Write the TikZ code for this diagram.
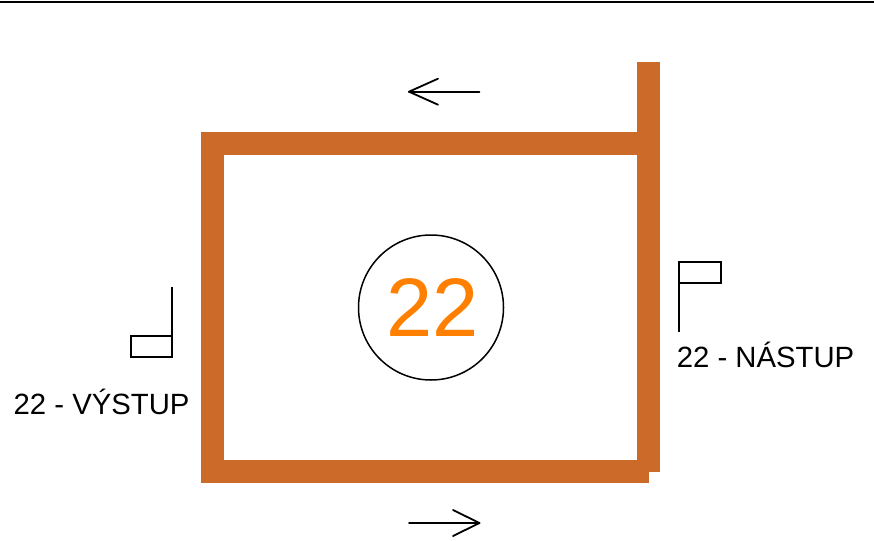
\documentclass[tikz,border=0pt]{standalone}
\usepackage{fontspec}
\setmainfont{Liberation Sans}
\definecolor{trackcol}{HTML}{CC6A29}
\definecolor{numcol}{HTML}{FF8000}
\tikzset{
  x=1pt,y=-1pt,
  track/.style={fill=trackcol,draw=none},
  thinline/.style={draw=black,line width=1.7pt},
  flagbox/.style={thinline,line join=miter},
  lbl/.style={inner sep=0pt,outer sep=0pt,anchor=base west,font=\fontsize{29.3}{32}\selectfont},
  openarrow/.style={draw=black,line width=1.8pt,line cap=round,line join=round},
}
\begin{document}
\begin{tikzpicture}
\useasboundingbox (0,0) rectangle (874,540);
% top rule
\coordinate (ruleL) at (0,2);
\coordinate (ruleR) at (874,2);
\draw[thinline] (ruleL) -- (ruleR);
% track
\fill[track] (201,132) rectangle (660,155);
\fill[track] (637,62) rectangle (660,472);
\fill[track] (201,460) rectangle (649,483);
\fill[track] (201,132) rectangle (224,483);
% circle with line number
\node[circle,draw=black,line width=1.5pt,minimum size=145pt,inner sep=0pt] (num) at (431,307.5) {};
\node[inner sep=0pt,text=numcol,font=\fontsize{83}{90}\selectfont] (numtext) at (432.8,307.5) {22};
% direction arrows
\coordinate (topTail) at (479.5,91.7);
\coordinate (topTip) at (409,91.7);
\coordinate (topA) at (438,78.7);
\coordinate (topB) at (438,104.7);
\draw[openarrow] (topTail) -- (topTip);
\draw[openarrow] (topA) -- (topTip) -- (topB);
\coordinate (botTail) at (409,523);
\coordinate (botTip) at (479.5,523);
\coordinate (botA) at (453,510);
\coordinate (botB) at (453,536);
\draw[openarrow] (botTail) -- (botTip);
\draw[openarrow] (botA) -- (botTip) -- (botB);
% boarding flag
\coordinate (nPoleTop) at (679.3,261.7);
\coordinate (nPoleBot) at (679.3,332);
\draw[thinline] (nPoleTop) -- (nPoleBot);
\draw[flagbox] (679.3,261.7) rectangle (720.7,282.8);
% alighting flag
\coordinate (vPoleTop) at (172,286.7);
\coordinate (vPoleBot) at (172,356.7);
\draw[thinline] (vPoleTop) -- (vPoleBot);
\draw[flagbox] (131,335.7) rectangle (172,356.7);
% labels
\node[lbl] (nastup) at (676.8,367.9) {22 - NÁSTUP};
\node[lbl] (vystup) at (13.7,414.5) {22 - VÝSTUP};
\end{tikzpicture}
\end{document}
